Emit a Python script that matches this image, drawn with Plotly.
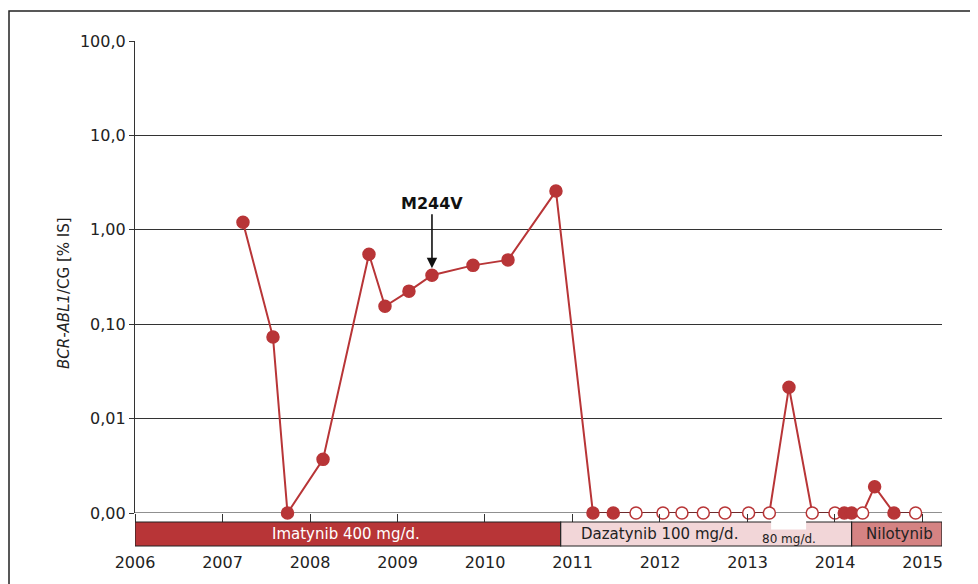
import plotly.graph_objects as go
import math

# ---- data ----
dates = [2007.234, 2007.577, 2007.743, 2008.149, 2008.674, 2008.857, 2009.131, 2009.394,
         2009.863, 2010.263, 2010.811, 2011.234, 2011.466, 2011.726, 2012.034, 2012.251,
         2012.495, 2012.743, 2013.013, 2013.25, 2013.474, 2013.74, 2014.0, 2014.106,
         2014.19, 2014.316, 2014.453, 2014.674, 2014.922]
values = [1.2, 0.073, 0.001, 0.0037, 0.55, 0.155, 0.224, 0.33,
          0.42, 0.48, 2.57, 0.001, 0.001, 0.001, 0.001, 0.001,
          0.001, 0.001, 0.001, 0.001, 0.0215, 0.001, 0.001, 0.001,
          0.001, 0.001, 0.0019, 0.001, 0.001]
filled = [1, 1, 1, 1, 1, 1, 1, 1,
          1, 1, 1, 1, 1, 0, 0, 0,
          0, 0, 0, 0, 1, 0, 0, 1,
          1, 0, 1, 1, 0]

therapies = ["Imatynib 400 mg/d.", "Dazatynib 100 mg/d.", "Nilotynib"]
therapy_start = [2006.0, 2010.865, 2014.19]
therapy_end = [2010.865, 2014.19, 2015.223]
therapy_colors = ["#b83537", "#f2d6d8", "#d58383"]
therapy_text_colors = ["white", "#222222", "#222222"]
therapy_label_x = [2008.41, 2011.994, 2014.74]
dose_change_label = "80 mg/d."
dose_change_start, dose_change_end = 2013.27, 2013.67
dose_change_label_x = 2013.47

ytick_vals = [0.001, 0.01, 0.1, 1, 10, 100]
ytick_text = ["0,00", "0,01", "0,10", "1,00", "10,0", "100,0"]
xtick_vals = list(range(2006, 2016))
xtick_text = [str(y) for y in xtick_vals]

mutation_label = "M244V"
mutation_index = 7

x_range = [2006.0, 2015.223]

RED = "#b83537"
FONT = "DejaVu Sans"
DARK = "#222222"

fig = go.Figure()
fig.add_trace(go.Scatter(x=dates, y=values, mode="lines",
                         line=dict(color=RED, width=2), cliponaxis=False,
                         hoverinfo="skip", showlegend=False))
fig.add_trace(go.Scatter(x=x_range, y=[ytick_vals[0]] * 2, mode="lines",
                         line=dict(color=DARK, width=1.2), cliponaxis=False,
                         hoverinfo="skip", showlegend=False))
fig.add_trace(go.Scatter(x=dates, y=values, mode="markers",
                         marker=dict(size=12,
                                     color=[RED if f else "white" for f in filled],
                                     line=dict(color=RED, width=1.5)),
                         cliponaxis=False, showlegend=False))

# therapy bars (below plot)
PH = 472.0
PW = 807.0
L = 127.0
bar_top, bar_bot = -9 / PH, -33 / PH
shapes = []
for s, e, c in zip(therapy_start, therapy_end, therapy_colors):
    shapes.append(dict(type="rect", xref="x", yref="paper", x0=s, x1=e, y0=bar_bot, y1=bar_top,
                       fillcolor=c, line=dict(color=DARK, width=1.2), layer="above"))
shapes.append(dict(type="rect", xref="x", yref="paper", x0=dose_change_start, x1=dose_change_end,
                   y0=-16.5 / PH, y1=-7.8 / PH, fillcolor="white", line=dict(width=0), layer="above"))
# outer frame
shapes.append(dict(type="rect", xref="paper", yref="paper", x0=(1.0 - L) / PW, x1=1.2,
                   y0=-0.3, y1=(513 - 11) / PH, line=dict(color=DARK, width=1.5),
                   fillcolor="rgba(0,0,0,0)"))

annotations = []
for t, lx, tc in zip(therapies, therapy_label_x, therapy_text_colors):
    annotations.append(dict(x=lx, y=-21 / PH, xref="x", yref="paper", text=t,
                            xanchor="center", yanchor="middle",
                            showarrow=False, font=dict(family=FONT, size=15, color=tc)))
annotations.append(dict(x=dose_change_label_x, y=-26 / PH, xref="x", yref="paper",
                        xanchor="center", yanchor="middle",
                        text=dose_change_label, showarrow=False,
                        font=dict(family=FONT, size=12, color=DARK)))
annotations.append(dict(x=dates[mutation_index], y=math.log10(values[mutation_index]), xref="x", yref="y",
                        text="<b>" + mutation_label + "</b>", showarrow=True, ax=0, ay=-72,
                        arrowhead=2, arrowsize=1.3, arrowwidth=1.6, arrowcolor="#111111", standoff=7,
                        font=dict(family=FONT, size=16, color="#111111")))
annotations.append(dict(x=(64 - 135) / PW, y=(513 - 293) / PH, xref="paper", yref="paper",
                        xanchor="center", yanchor="middle",
                        text="<i>BCR-ABL1</i>/CG [% IS]", textangle=-90, showarrow=False,
                        font=dict(family=FONT, size=15, color=DARK)))

fig.update_layout(
    width=970, height=576,
    margin=dict(l=127, r=36, t=33, b=71, autoexpand=False),
    paper_bgcolor="white", plot_bgcolor="white",
    font=dict(family=FONT, size=16, color=DARK),
    shapes=shapes, annotations=annotations,
    xaxis=dict(range=x_range, tickvals=xtick_vals, ticktext=xtick_text, ticks="outside",
               ticklen=8, tickcolor="#333333", tickwidth=1.2, showgrid=False, zeroline=False,
               showline=False, ticklabelstandoff=27, automargin=False,
               tickfont=dict(family=FONT, size=16, color=DARK)),
    yaxis=dict(type="log", range=[-3, 2], tickvals=ytick_vals, ticktext=ytick_text,
               ticks="outside", ticklen=5, tickcolor="#333333", tickwidth=1.2,
               showgrid=True, gridcolor="#333333", gridwidth=1.2, automargin=False,
               showline=True, linecolor="#333333", linewidth=1.2, zeroline=False,
               tickfont=dict(family=FONT, size=16, color=DARK)),
)

fig.write_html("out.html")
